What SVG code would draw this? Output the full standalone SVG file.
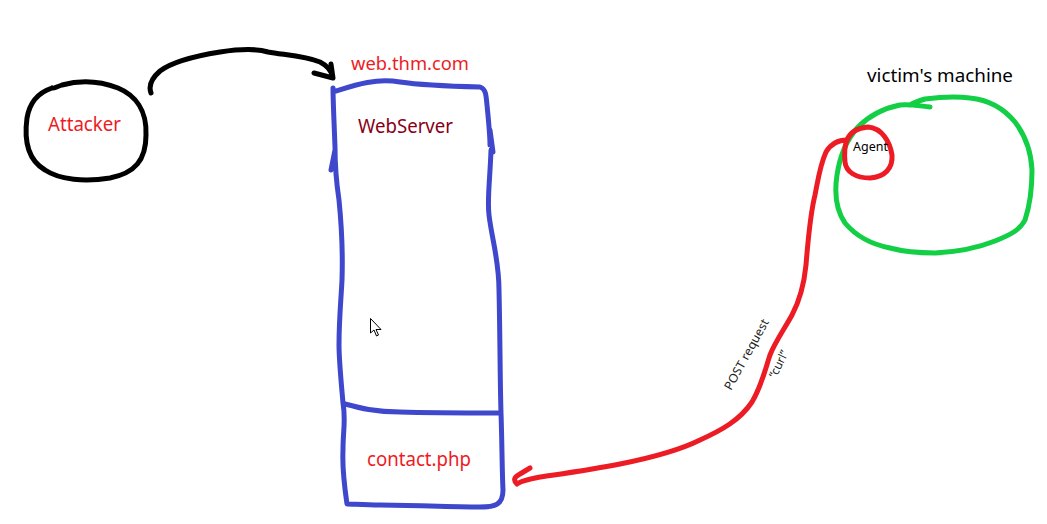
<svg xmlns="http://www.w3.org/2000/svg" width="1047" height="524" viewBox="0 0 1047 524">
<style>
.s{fill:none;stroke-width:5;stroke-linecap:round;stroke-linejoin:round}
.k{stroke:#000}
.b{stroke:#3f48cc}
.r{stroke:#ed1c24}
.g{stroke:#12cf45}
text{font-family:"Noto Sans","Open Sans","DejaVu Sans",sans-serif}
.red{fill:#ed1c24}
</style>
<rect width="1047" height="524" fill="#fff"/>
<g id="attacker">
<path class="s k" d="M52,88 C40,92 30,100 27,118 C24,140 28,160 45,170 C60,180 85,182 110,178 C135,173 146,160 146,135 C147,110 135,95 118,88 C100,81 80,80 62,85 C56,87 53,89 52,88"/>
<text x="48" y="131" font-size="19" class="red" textLength="73" lengthAdjust="spacingAndGlyphs">Attacker</text>
</g>
<g id="webserver">
<path class="s b" d="M336,91 C355,85 375,78 400,82 C420,85 440,86 480,87 C486,89 486,95 487,105 C488,115 490,135 490,145 M490,130 L493,152 M491,150 C490,180 487,200 489,215 C492,240 499,260 499,290 C500,330 500,380 501,413 C502,440 502,470 503,490 C503,505 495,507 480,507 C450,507 410,505 380,505 C365,505 352,504 347,504 C345,490 342,470 343,450 C343,430 346,420 343,403 C341,380 339,360 339,345 C339,320 341,300 342,280 C343,250 341,220 339,200 C336,180 335,165 335,147 C334,120 333,100 333,88 M335,150 L331,170"/>
<path class="s b" d="M345,404 C360,408 375,412 400,412 C430,413 460,413 500,413"/>
<text x="351" y="70" font-size="18" class="red" textLength="118" lengthAdjust="spacingAndGlyphs">web.thm.com</text>
<text x="358" y="133" font-size="19" fill="#880015" textLength="95" lengthAdjust="spacingAndGlyphs">WebServer</text>
<text x="367" y="466" font-size="19" class="red" textLength="104" lengthAdjust="spacingAndGlyphs">contact.php</text>
</g>
<g id="victim">
<path class="s g" d="M930,107 C920,106 910,104 900,105 C885,108 870,115 858,127 C848,138 840,155 837,175 C834,195 836,210 845,223 C855,235 870,244 890,248 C905,252 920,253 935,253 C955,252 975,249 995,241 C1010,235 1020,230 1025,220 C1030,205 1032,185 1032,170 C1031,150 1025,135 1015,122 C1005,110 990,100 970,98 C955,96 940,97 925,99 C918,101 913,103 910,105"/>
<text x="867" y="82" font-size="18" fill="#000" textLength="146" lengthAdjust="spacingAndGlyphs">victim's machine</text>
</g>
<g id="agent">
<path class="s r" d="M847,140 C850,132 857,128 868,127 C882,128 890,142 892,155 C893,168 885,177 870,178 C856,178 846,172 845,162 C844,152 845,145 847,140"/>
<text x="853" y="151" font-size="12" fill="#000" textLength="35" lengthAdjust="spacingAndGlyphs">Agent</text>
</g>
<g id="connectors">
<path class="s k" d="M151,93 C148,85 152,78 160,71 C172,62 195,56 220,52 C240,49 255,48 268,52 C285,55 305,56 320,62 C328,66 332,72 333,78 M314,73 L333,78 L331,64"/>
<path class="s r" d="M847,140 C840,140 832,142 826,152 C820,165 818,180 815,195 C810,215 808,240 806,265 C804,285 800,300 792,315 C785,328 775,342 770,355 C765,370 762,385 752,402 C740,420 722,430 700,440 C680,450 650,458 620,464 C590,470 560,474 540,477 C530,479 520,481 517,484 C513,480 514,477 520,474 L530,468"/>
<text transform="translate(731,391) rotate(-61)" font-size="12" fill="#222" textLength="79" lengthAdjust="spacingAndGlyphs">POST request</text>
<text transform="translate(776,379) rotate(-64)" font-size="12" fill="#222">“curl”</text>
</g>
<path d="M370.5,318.5 L370.5,333 L374,330 L376.5,336 L378.5,335 L376,329.5 L381,329.5 Z" fill="#fff" stroke="#000" stroke-width="1"/>
</svg>
